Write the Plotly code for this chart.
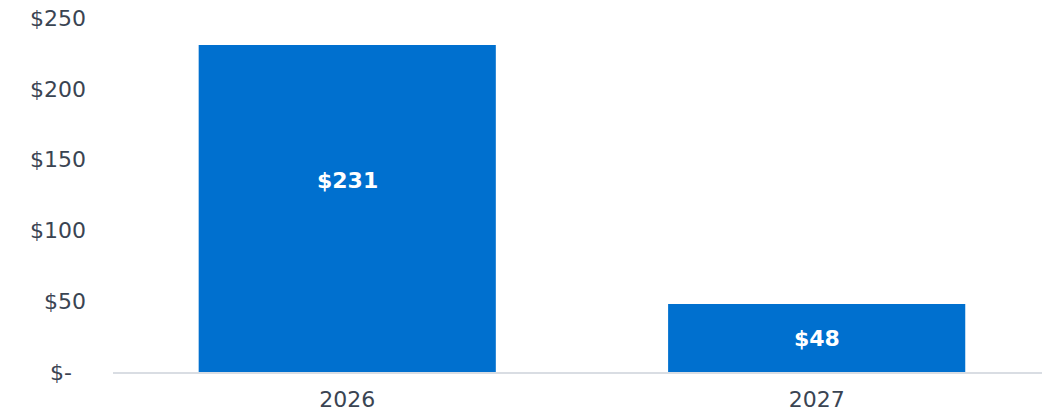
import plotly.graph_objects as go

# Values in millions of dollars by year
years = ["2026", "2027"]
amounts = [231, 48]
bar_labels = ["$231", "$48"]

# Y axis ticks
y_tickvals = [0, 50, 100, 150, 200, 250]
y_ticktext = ["$-\u2007", "$50", "$100", "$150", "$200", "$250"]

# Vertical placement of the value labels inside the bars (axis units)
label_y = [135, 23.5]

BLUE = "#0070CF"
TEXT = "#3A4452"
FONT = "DejaVu Sans"

fig = go.Figure()
fig.add_trace(go.Bar(
    x=years,
    y=amounts,
    marker=dict(color=BLUE, line=dict(width=0)),
    width=0.633,
    hoverinfo="skip",
))

# category axis: annotations are positioned by category index
for idx, (ly, txt) in enumerate(zip(label_y, bar_labels)):
    fig.add_annotation(
        x=idx, y=ly, xref="x", yref="y",
        text=f"<b>{txt}</b>", showarrow=False,
        font=dict(family=FONT, size=22, color="white"),
        xanchor="center", yanchor="middle",
    )

fig.update_layout(
    width=1042, height=414,
    margin=dict(l=113, r=0, t=18, b=42),
    paper_bgcolor="white", plot_bgcolor="white",
    showlegend=False,
    font=dict(family=FONT, size=22, color=TEXT),
    xaxis=dict(
        type="category",
        range=[-0.499, 1.48],
        showline=True, linecolor="#D9DDE3", linewidth=2,
        showgrid=False, ticks="", ticklabelstandoff=7,
        tickfont=dict(family=FONT, size=22, color=TEXT),
    ),
    yaxis=dict(
        range=[0, 250],
        tickvals=y_tickvals, ticktext=y_ticktext,
        showgrid=False, zeroline=False, showline=False,
        ticks="", ticklabelstandoff=26,
        tickfont=dict(family=FONT, size=22, color=TEXT),
    ),
)

fig.write_html("out.html")
